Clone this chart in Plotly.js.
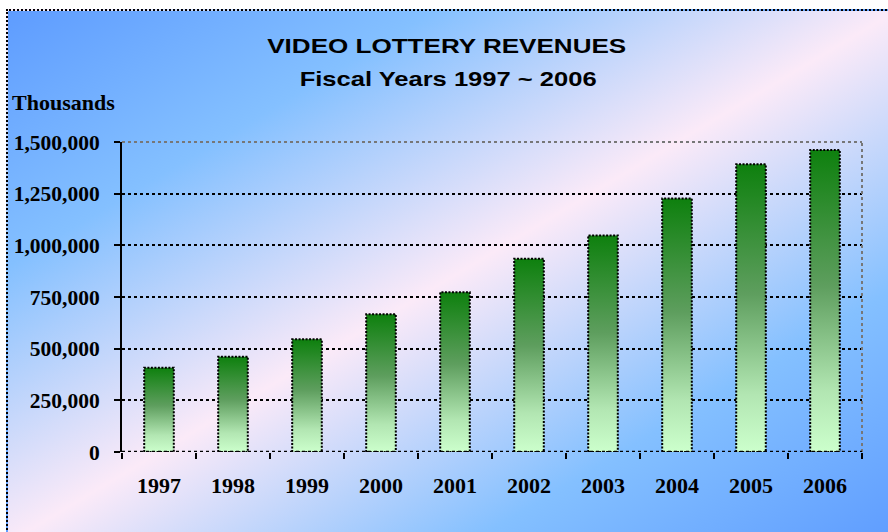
<!DOCTYPE html>
<html>
<head>
<meta charset="utf-8">
<script src="https://cdn.plot.ly/plotly-3.0.1.min.js"></script>
<style>
  html, body { margin:0; padding:0; background:#fff; width:888px; height:532px; overflow:hidden; }
  #bg { position:absolute; left:6px; top:9px; width:892px; height:536px; box-sizing:border-box;
        border:2px dotted #000;
        background: linear-gradient(to bottom right, #5e9cff 0%, #84c0ff 24%, #fbeaf8 50%, #84c0ff 76%, #5e9cff 100%); }
  #chart { position:absolute; left:0; top:0; width:888px; height:532px; }
</style>
</head>
<body>
<div id="bg"></div>
<div id="chart"></div>
<script>
const years = ['1997','1998','1999','2000','2001','2002','2003','2004','2005','2006'];
const revenues = [408000, 461000, 545000, 666000, 773000, 935000, 1048000, 1227000, 1392000, 1461000];
const yTickVals = [0, 250000, 500000, 750000, 1000000, 1250000, 1500000];
const yTickText = ['0', '250,000', '500,000', '750,000', '1,000,000', '1,250,000', '1,500,000'];
const titleLines = ['VIDEO LOTTERY REVENUES', 'Fiscal Years 1997 ~ 2006'];

const serif = '"Liberation Serif", "Times New Roman", serif';
const sans = '"Liberation Sans", Arial, sans-serif';

const trace = {
  type: 'bar',
  x: years,
  y: revenues,
  marker: { color: '#5e9e5e', line: { color: '#000', width: 2 } },
  hoverinfo: 'skip'
};

const layout = {
  width: 888, height: 532,
  paper_bgcolor: 'rgba(0,0,0,0)',
  plot_bgcolor: 'rgba(0,0,0,0)',
  margin: { l: 122, r: 26, t: 142, b: 80 },
  bargap: 0.6,
  showlegend: false,
  xaxis: {
    type: 'category',
    tickson: 'boundaries',
    ticks: 'outside', ticklen: 6, tickwidth: 2, tickcolor: '#000',
    showline: false, showgrid: false, zeroline: false,
    tickfont: { family: serif, size: 22, color: '#000', weight: 'bold' },
    ticklabelstandoff: 18
  },
  yaxis: {
    range: [0, 1500000],
    tickvals: yTickVals, ticktext: yTickText,
    ticks: 'outside', ticklen: 6, tickwidth: 2, tickcolor: '#000',
    showline: true, linecolor: '#000', linewidth: 2,
    showgrid: true, gridcolor: '#000', gridwidth: 2, griddash: 'dot',
    zeroline: false,
    tickfont: { family: serif, size: 21.5, color: '#000', weight: 'bold' },
    ticklabelstandoff: 10
  },
  shapes: [
    { type: 'line', xref: 'paper', yref: 'paper', x0: 0, x1: 1, y0: 1, y1: 1, line: { color: '#777', width: 2, dash: 'dot' } },
    { type: 'line', xref: 'paper', yref: 'paper', x0: 1, x1: 1, y0: 0, y1: 1, line: { color: '#777', width: 2, dash: 'dot' } },
    { type: 'line', xref: 'paper', yref: 'y', x0: 0, x1: 1, y0: 0, y1: 0, line: { color: '#000', width: 2.5, dash: 'dot' } }
  ],
  annotations: [
    { text: titleLines[0], xref: 'paper', yref: 'paper', x: 0.4388, y: 1, xanchor: 'center', yanchor: 'middle',
      yshift: 97, showarrow: false, font: { family: sans, size: 21, color: '#000', weight: 'bold' } },
    { text: titleLines[1], xref: 'paper', yref: 'paper', x: 0.4402, y: 1, xanchor: 'center', yanchor: 'middle',
      yshift: 64, showarrow: false, font: { family: sans, size: 21, color: '#000', weight: 'bold' } },
    { text: 'Thousands', xref: 'paper', yref: 'paper', x: 0, y: 1, xanchor: 'left', yanchor: 'middle',
      xshift: -112, yshift: 40, showarrow: false, font: { family: serif, size: 22, color: '#000', weight: 'bold' } }
  ]
};

Plotly.newPlot('chart', [trace], layout, { staticPlot: true, displayModeBar: false }).then(function (gd) {
  const svg = gd.querySelector('svg.main-svg');
  const ns = 'http://www.w3.org/2000/svg';
  let defs = svg.querySelector('defs');
  if (!defs) { defs = document.createElementNS(ns, 'defs'); svg.insertBefore(defs, svg.firstChild); }
  const grad = document.createElementNS(ns, 'linearGradient');
  grad.setAttribute('id', 'barGrad');
  grad.setAttribute('x1', '0'); grad.setAttribute('y1', '0');
  grad.setAttribute('x2', '0'); grad.setAttribute('y2', '1');
  [['0', '#0e800e'], ['0.45', '#5e9e5e'], ['0.8', '#b2e6b2'], ['1', '#ccffcc']].forEach(function (s) {
    const st = document.createElementNS(ns, 'stop');
    st.setAttribute('offset', s[0]); st.setAttribute('stop-color', s[1]);
    grad.appendChild(st);
  });
  defs.appendChild(grad);
  gd.querySelectorAll('.bars .point path').forEach(function (p) {
    p.style.fill = 'url(#barGrad)';
    p.style.strokeDasharray = '2,1.5';
  });
  // stretch the title lines horizontally, as in the reference
  const widths = { 'VIDEO LOTTERY REVENUES': 359, 'Fiscal Years 1997 ~ 2006': 297 };
  gd.querySelectorAll('.annotation-text').forEach(function (t) {
    const w = widths[t.textContent];
    if (w) {
      t.setAttribute('textLength', w);
      t.setAttribute('lengthAdjust', 'spacingAndGlyphs');
    }
  });
});
</script>
</body>
</html>
